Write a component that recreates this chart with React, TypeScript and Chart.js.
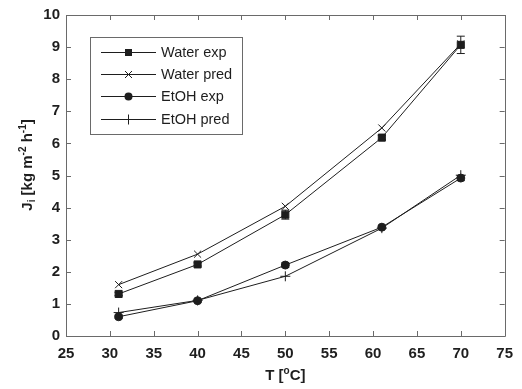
import React, { useEffect, useRef } from "react";
import { Chart, registerables } from "chart.js";

Chart.register(...registerables);

const temperatures = [31, 40, 50, 61, 70];
const waterExp = [1.31, 2.23, 3.78, 6.18, 9.07];
const waterExpErr = [0.05, 0.05, 0.14, 0.07, 0.27];
const waterPred = [1.6, 2.55, 4.04, 6.48, 9.1];
const etohExp = [0.6, 1.1, 2.21, 3.39, 4.92];
const etohExpErr = [0.05, 0.05, 0.07, 0.05, 0.08];
const etohPred = [0.73, 1.11, 1.86, 3.36, 5.01];

const xTicks = [25, 30, 35, 40, 45, 50, 55, 60, 65, 70, 75];
const yTicks = [0, 1, 2, 3, 4, 5, 6, 7, 8, 9, 10];
const legendLabels = ["Water exp", "Water pred", "EtOH exp", "EtOH pred"];

const LINE = "#1e1e1e";
const AXIS = "#6a6a6a";
const TEXT = "#1e1e1e";
const FONT = "'Liberation Sans', Arial, sans-serif";

function drawMarker(ctx: CanvasRenderingContext2D, style: string, x: number, y: number) {
  ctx.save();
  ctx.strokeStyle = LINE;
  ctx.fillStyle = LINE;
  ctx.lineWidth = 1;
  ctx.beginPath();
  if (style === "rect") {
    ctx.rect(x - 3.5, y - 3.5, 7, 7);
    ctx.fill();
  } else if (style === "circle") {
    ctx.arc(x, y, 4, 0, Math.PI * 2);
    ctx.fill();
  } else if (style === "crossRot") {
    ctx.moveTo(x - 3.5, y - 3.5);
    ctx.lineTo(x + 3.5, y + 3.5);
    ctx.moveTo(x + 3.5, y - 3.5);
    ctx.lineTo(x - 3.5, y + 3.5);
    ctx.stroke();
  } else if (style === "cross") {
    ctx.moveTo(x, y - 5);
    ctx.lineTo(x, y + 5);
    ctx.stroke();
  }
  ctx.restore();
}

type Seg = { t: string; size: number; dy: number };

function drawSegs(ctx: CanvasRenderingContext2D, segs: Seg[], cx: number, baseline: number) {
  let total = 0;
  for (const s of segs) {
    ctx.font = `bold ${s.size}px ${FONT}`;
    total += ctx.measureText(s.t).width;
  }
  let x = cx - total / 2;
  ctx.textAlign = "left";
  ctx.textBaseline = "alphabetic";
  for (const s of segs) {
    ctx.font = `bold ${s.size}px ${FONT}`;
    ctx.fillText(s.t, x, baseline + s.dy);
    x += ctx.measureText(s.t).width;
  }
}

const decorPlugin = {
  id: "decor",
  afterDatasetsDraw(chart: any) {
    const ctx: CanvasRenderingContext2D = chart.ctx;
    const { left, right, top, bottom } = chart.chartArea;
    const xs = chart.scales.x;
    const ys = chart.scales.y;

    // error bars
    ctx.save();
    ctx.strokeStyle = LINE;
    ctx.lineWidth = 1;
    const errSets = [
      { vals: waterExp, errs: waterExpErr },
      { vals: etohExp, errs: etohExpErr },
    ];
    for (const s of errSets) {
      temperatures.forEach((t, i) => {
        const px = xs.getPixelForValue(t);
        const y1 = ys.getPixelForValue(s.vals[i] + s.errs[i]);
        const y2 = ys.getPixelForValue(s.vals[i] - s.errs[i]);
        ctx.beginPath();
        ctx.moveTo(px, y1);
        ctx.lineTo(px, y2);
        ctx.moveTo(px - 4, y1);
        ctx.lineTo(px + 4, y1);
        ctx.moveTo(px - 4, y2);
        ctx.lineTo(px + 4, y2);
        ctx.stroke();
      });
    }
    ctx.restore();

    // box & inward ticks
    ctx.save();
    ctx.strokeStyle = AXIS;
    ctx.lineWidth = 1;
    ctx.beginPath();
    ctx.rect(Math.round(left) + 0.5, Math.round(top) + 0.5, Math.round(right - left), Math.round(bottom - top));
    ctx.stroke();
    ctx.beginPath();
    for (const v of xTicks) {
      const px = Math.round(xs.getPixelForValue(v)) + 0.5;
      ctx.moveTo(px, bottom);
      ctx.lineTo(px, bottom - 5);
      ctx.moveTo(px, top);
      ctx.lineTo(px, top + 5);
    }
    for (const v of yTicks) {
      const py = Math.round(ys.getPixelForValue(v)) + 0.5;
      ctx.moveTo(left, py);
      ctx.lineTo(left + 5, py);
      ctx.moveTo(right, py);
      ctx.lineTo(right - 5, py);
    }
    ctx.stroke();
    ctx.restore();

    // legend
    ctx.save();
    const bx = 90, by = 37, bw = 152, bh = 97;
    ctx.fillStyle = "#ffffff";
    ctx.fillRect(bx, by, bw, bh);
    ctx.strokeStyle = AXIS;
    ctx.lineWidth = 1;
    ctx.strokeRect(bx + 0.5, by + 0.5, bw, bh);
    const styles = ["rect", "crossRot", "circle", "cross"];
    const rows = [52, 74, 96, 119];
    legendLabels.forEach((lab, i) => {
      const y = rows[i] + 0.5;
      ctx.strokeStyle = LINE;
      ctx.beginPath();
      ctx.moveTo(101, y);
      ctx.lineTo(156, y);
      ctx.stroke();
      drawMarker(ctx, styles[i], 128.5, y);
      ctx.fillStyle = TEXT;
      ctx.font = `14.5px ${FONT}`;
      ctx.textAlign = "left";
      ctx.textBaseline = "middle";
      ctx.fillText(lab, 161, rows[i] + 1);
    });
    ctx.restore();

    // axis titles
    ctx.save();
    ctx.fillStyle = TEXT;
    drawSegs(
      ctx,
      [
        { t: "T [", size: 15, dy: 0 },
        { t: "o", size: 10, dy: -6 },
        { t: "C]", size: 15, dy: 0 },
      ],
      (left + right) / 2,
      380
    );
    ctx.translate(32, 165);
    ctx.rotate(-Math.PI / 2);
    drawSegs(
      ctx,
      [
        { t: "J", size: 15, dy: 0 },
        { t: "i", size: 10, dy: 3 },
        { t: " [kg m", size: 15, dy: 0 },
        { t: "-2", size: 10, dy: -6 },
        { t: " h", size: 15, dy: 0 },
        { t: "-1", size: 10, dy: -6 },
        { t: "]", size: 15, dy: 0 },
      ],
      0,
      0
    );
    ctx.restore();
  },
};

function makeData(vals: number[]) {
  return temperatures.map((t, i) => ({ x: t, y: vals[i] }));
}

export default function App() {
  const ref = useRef<HTMLCanvasElement | null>(null);
  useEffect(() => {
    if (!ref.current) return;
    const common = {
      borderColor: LINE,
      borderWidth: 1,
      pointBorderColor: LINE,
      pointBackgroundColor: LINE,
      pointBorderWidth: 1,
      tension: 0,
      fill: false,
    };
    const chart = new Chart(ref.current, {
      type: "line",
      data: {
        datasets: [
          { ...common, label: legendLabels[0], data: makeData(waterExp), pointStyle: "rect", pointRadius: 5 },
          { ...common, label: legendLabels[1], data: makeData(waterPred), pointStyle: "crossRot", pointRadius: 5 },
          { ...common, label: legendLabels[2], data: makeData(etohExp), pointStyle: "circle", pointRadius: 4 },
          { ...common, label: legendLabels[3], data: makeData(etohPred), pointStyle: "cross", pointRadius: 5 },
        ],
      },
      options: {
        responsive: false,
        animation: false,
        layout: { padding: { left: 0, top: 13, right: 10, bottom: 0 } },
        plugins: { legend: { display: false }, tooltip: { enabled: false } },
        scales: {
          x: {
            type: "linear",
            min: 25,
            max: 75,
            grid: { display: false, drawTicks: false },
            border: { display: false },
            afterFit: (s: any) => {
              s.height = 53;
            },
            ticks: {
              stepSize: 5,
              padding: 9,
              color: TEXT,
              font: { family: FONT, size: 15, weight: "bold" },
              maxRotation: 0,
            },
          },
          y: {
            type: "linear",
            min: 0,
            max: 10,
            grid: { display: false, drawTicks: false },
            border: { display: false },
            afterFit: (s: any) => {
              s.width = 66;
            },
            ticks: {
              stepSize: 1,
              padding: 6,
              color: TEXT,
              font: { family: FONT, size: 15, weight: "bold" },
            },
          },
        },
      },
      plugins: [decorPlugin],
    } as any);
    return () => chart.destroy();
  }, []);
  return (
    <div style={{ position: "absolute", left: 0, top: 0, width: 522, height: 389, background: "#fff" }}>
      <canvas ref={ref} width={522} height={389} style={{ width: 522, height: 389, display: "block" }} />
    </div>
  );
}
